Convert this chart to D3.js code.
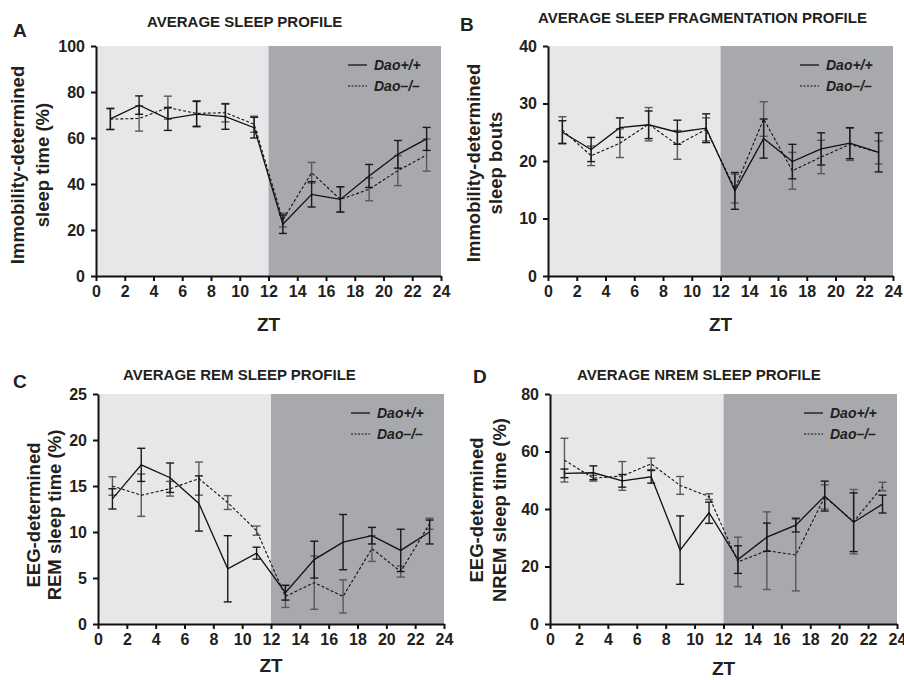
<!DOCTYPE html>
<html>
<head>
<meta charset="utf-8">
<script src="https://cdn.jsdelivr.net/npm/d3@7"></script>
<style>
  html, body { margin: 0; padding: 0; background: #fff; }
  svg { display: block; font-family: "Liberation Sans", Arial, Helvetica, sans-serif; }
</style>
</head>
<body>
<svg id="chart" width="904" height="680"></svg>
<script>
// ---------- data ----------
const zt = [1, 3, 5, 7, 9, 11, 13, 15, 17, 19, 21, 23];
const xTicks = [0, 2, 4, 6, 8, 10, 12, 14, 16, 18, 20, 22, 24];
const seriesNames = ["Dao+/+", "Dao\u2013/\u2013"];

// A: immobility-determined sleep time (%)
const sleepWt    = [68.3, 74.3, 68.3, 70.4, 69.3, 64.5, 22.5, 35.5, 33.3, 43.5, 52.9, 59.6];
const sleepWtErr = [4.6, 4.0, 5.0, 5.5, 5.5, 4.5, 4.0, 5.5, 5.5, 5.0, 6.0, 5.0];
const sleepKo    = [68.2, 68.5, 73.2, 70.7, 71.0, 66.0, 24.3, 44.9, 33.3, 37.7, 45.8, 52.6];
const sleepKoErr = [4.5, 5.5, 5.0, 5.5, 4.0, 3.5, 3.0, 4.5, 5.5, 5.0, 6.5, 7.0];
const sleepTicks = [0, 20, 40, 60, 80, 100];

// B: immobility-determined sleep bouts
const boutsWt    = [25.0, 22.0, 25.8, 26.3, 25.0, 25.7, 14.8, 23.9, 19.9, 22.1, 23.1, 21.5];
const boutsWtErr = [2.0, 2.1, 1.7, 2.4, 2.1, 2.5, 3.2, 3.4, 3.0, 2.8, 2.7, 3.4];
const boutsKo    = [25.4, 20.9, 23.1, 26.4, 22.8, 25.5, 15.2, 27.3, 18.3, 20.7, 22.9, 21.5];
const boutsKoErr = [2.3, 1.7, 2.5, 2.9, 2.5, 2.0, 2.5, 3.0, 3.2, 2.9, 2.8, 2.0];
const boutsTicks = [0, 10, 20, 30, 40];

// C: EEG-determined REM sleep time (%)
const remWt    = [13.6, 17.3, 15.9, 13.1, 6.0, 7.7, 3.4, 7.0, 8.9, 9.6, 8.0, 10.0];
const remWtErr = [1.1, 1.8, 1.6, 3.0, 3.6, 0.65, 0.8, 2.0, 3.0, 0.9, 2.3, 1.3];
const remKo    = [15.0, 14.0, 14.7, 15.8, 13.2, 10.15, 3.0, 4.5, 3.0, 8.2, 5.7, 10.9];
const remKoErr = [1.0, 2.3, 0.8, 1.8, 0.75, 0.5, 1.2, 2.9, 1.8, 1.4, 0.6, 0.6];
const remTicks = [0, 5, 10, 15, 20, 25];

// D: EEG-determined NREM sleep time (%)
const nremWt    = [52.4, 52.6, 49.8, 51.2, 25.7, 38.7, 22.4, 30.2, 34.4, 44.5, 35.4, 41.7];
const nremWtErr = [1.5, 2.4, 2.2, 2.2, 11.9, 3.7, 4.8, 4.9, 2.4, 5.2, 10.2, 3.1];
const nremKo    = [57.0, 50.7, 51.5, 55.7, 48.2, 44.3, 21.6, 25.5, 24.0, 44.2, 35.6, 47.8];
const nremKoErr = [7.6, 1.0, 5.0, 2.0, 3.1, 1.0, 8.6, 13.5, 12.5, 4.2, 11.2, 1.5];
const nremTicks = [0, 20, 40, 60, 80];

// ---------- panels ----------
const panels = [
  { letter: "A", lx: 13, ly: 37, title: "AVERAGE SLEEP PROFILE", tx: 147, ty: 27,
    x0: 96, x1: 441, yTop: 46, yBot: 276, ymax: 100, ticks: sleepTicks,
    wt: sleepWt, wtE: sleepWtErr, ko: sleepKo, koE: sleepKoErr,
    ylab: ["Immobility-determined", "sleep time (%)"], ylx: [17, 42], yly: 165, ztY: 331 },
  { letter: "B", lx: 460, ly: 31, title: "AVERAGE SLEEP FRAGMENTATION PROFILE", tx: 538, ty: 23,
    x0: 548, x1: 893, yTop: 46, yBot: 276, ymax: 40, ticks: boutsTicks,
    wt: boutsWt, wtE: boutsWtErr, ko: boutsKo, koE: boutsKoErr,
    ylab: ["Immobility-determined", "sleep bouts"], ylx: [473, 495], yly: 163, ztY: 331 },
  { letter: "C", lx: 13, ly: 388, title: "AVERAGE REM SLEEP PROFILE", tx: 123, ty: 380,
    x0: 98, x1: 444, yTop: 394, yBot: 624, ymax: 25, ticks: remTicks,
    wt: remWt, wtE: remWtErr, ko: remKo, koE: remKoErr,
    ylab: ["EEG-determined", "REM sleep time (%)"], ylx: [33, 54], yly: 515, ztY: 672 },
  { letter: "D", lx: 473, ly: 383, title: "AVERAGE NREM SLEEP PROFILE", tx: 577, ty: 380,
    x0: 550, x1: 897, yTop: 394, yBot: 624, ymax: 80, ticks: nremTicks,
    wt: nremWt, wtE: nremWtErr, ko: nremKo, koE: nremKoErr,
    ylab: ["EEG-determined", "NREM sleep time (%)"], ylx: [476, 499], yly: 510, ztY: 675 }
];

const svg = d3.select("#chart");
const txt = "#231f20";

panels.forEach(p => {
  const x = d3.scaleLinear().domain([0, 24]).range([p.x0, p.x1]);
  const y = d3.scaleLinear().domain([0, p.ymax]).range([p.yBot, p.yTop]);
  const g = svg.append("g");

  // light / dark phases
  g.append("rect").attr("x", x(0)).attr("y", y(p.ymax))
    .attr("width", x(12) - x(0)).attr("height", y(0) - y(p.ymax)).attr("fill", "#e6e7e8");
  g.append("rect").attr("x", x(12)).attr("y", y(p.ymax))
    .attr("width", x(24) - x(12)).attr("height", y(0) - y(p.ymax)).attr("fill", "#a7a9ac");

  // error bars
  const drawErr = (vals, errs, color) => {
    const eg = g.append("g").attr("stroke", color).attr("stroke-width", 1.4).attr("fill", "none");
    zt.forEach((t, i) => {
      const cx = x(t), hi = y(vals[i] + errs[i]), lo = y(vals[i] - errs[i]);
      eg.append("line").attr("x1", cx).attr("x2", cx).attr("y1", hi).attr("y2", lo);
      eg.append("line").attr("x1", cx - 4).attr("x2", cx + 4).attr("y1", hi).attr("y2", hi);
      eg.append("line").attr("x1", cx - 4).attr("x2", cx + 4).attr("y1", lo).attr("y2", lo);
    });
  };
  drawErr(p.ko, p.koE, "#58595b");
  drawErr(p.wt, p.wtE, "#1a1a1a");

  const line = d3.line().x((d, i) => x(zt[i])).y(d => y(d));
  g.append("path").datum(p.ko).attr("d", line).attr("fill", "none")
    .attr("stroke", "#111").attr("stroke-width", 1.1).attr("stroke-dasharray", "3,2");
  g.append("path").datum(p.wt).attr("d", line).attr("fill", "none")
    .attr("stroke", "#111").attr("stroke-width", 1.3);

  // axes
  const yAxis = d3.axisLeft(y).tickValues(p.ticks).tickSize(5).tickSizeOuter(0).tickPadding(6);
  const xAxis = d3.axisBottom(x).tickValues(xTicks).tickSize(5).tickSizeOuter(0).tickPadding(5);
  const ya = g.append("g").attr("transform", `translate(${x(0)},0)`).call(yAxis);
  const xa = g.append("g").attr("transform", `translate(0,${y(0)})`).call(xAxis);
  [ya, xa].forEach(a => {
    a.select(".domain").attr("stroke", "#111").attr("stroke-width", 2);
    a.selectAll(".tick line").attr("stroke", "#111").attr("stroke-width", 2);
    a.selectAll(".tick text").attr("fill", txt).attr("font-size", 16).attr("font-weight", "bold")
      .attr("font-family", '"Liberation Sans", Arial, sans-serif');
  });

  // legend
  const lgX = p.x1 - 93, lgY = p.yTop + 19;
  [0, 1].forEach(k => {
    const ry = lgY + k * 21;
    g.append("line").attr("x1", lgX).attr("x2", lgX + 19).attr("y1", ry).attr("y2", ry)
      .attr("stroke", "#111").attr("stroke-width", k ? 1.1 : 1.3)
      .attr("stroke-dasharray", k ? "2,1.5" : null);
    g.append("text").attr("x", lgX + 26).attr("y", ry).attr("dy", "0.36em")
      .attr("font-size", 14).attr("font-weight", "bold").attr("font-style", "italic")
      .attr("fill", txt).text(seriesNames[k]);
  });

  // titles and labels
  svg.append("text").attr("x", p.lx).attr("y", p.ly).attr("font-size", 19)
    .attr("font-weight", "bold").attr("fill", txt).text(p.letter);
  svg.append("text").attr("x", p.tx).attr("y", p.ty)
    .attr("font-size", 15).attr("font-weight", "bold").attr("fill", txt).text(p.title);
  svg.append("text").attr("x", x(12)).attr("y", p.ztY).attr("text-anchor", "middle")
    .attr("font-size", 19).attr("font-weight", "bold").attr("fill", txt).text("ZT");
  p.ylab.forEach((s, k) => {
    svg.append("text")
      .attr("transform", `translate(${p.ylx[k]},${p.yly}) rotate(-90)`)
      .attr("text-anchor", "middle").attr("dy", "0.36em")
      .attr("font-size", 18.5).attr("font-weight", "bold").attr("fill", txt).text(s);
  });
});
</script>
</body>
</html>
